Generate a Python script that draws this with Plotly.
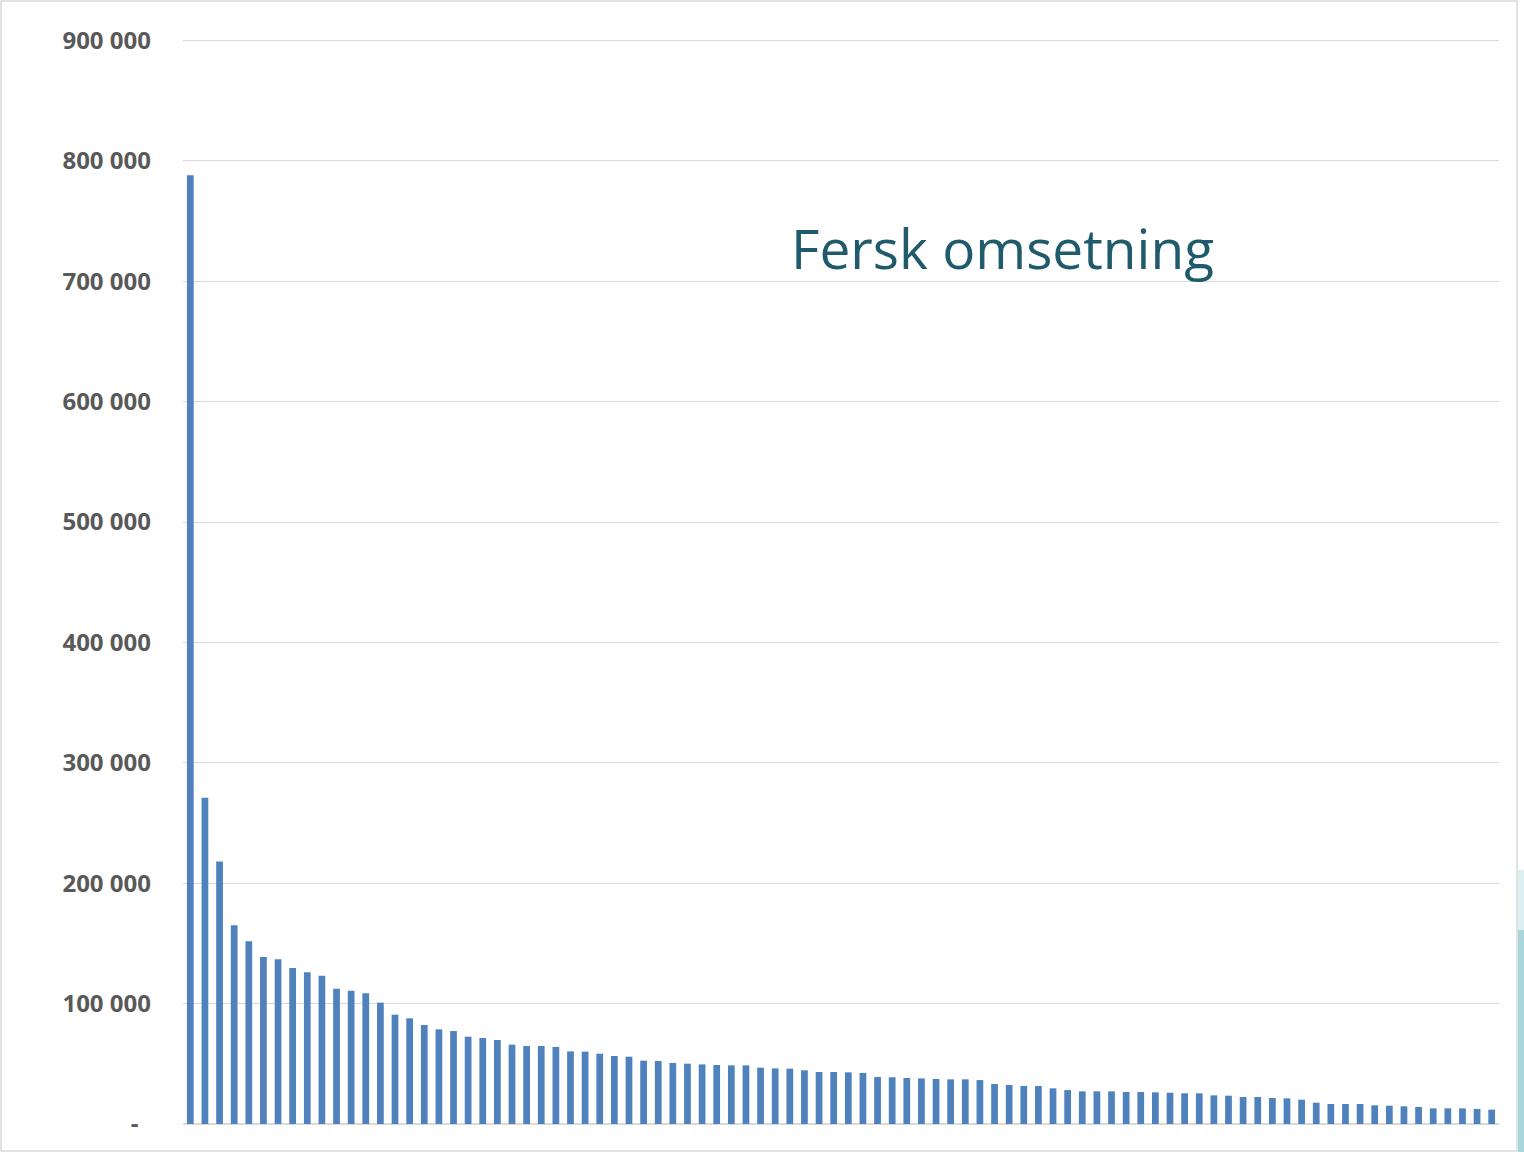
import plotly.graph_objects as go

values = [788000, 271000, 218000, 165000, 151700, 138700, 136800, 129600, 126000, 123200,
          112400, 110700, 108500, 100800, 90800, 87800, 82200, 78600, 77200, 72500,
          71400, 69800, 65900, 64800, 64800, 64000, 60300, 60100, 58400, 56500,
          55900, 52600, 52300, 50700, 50100, 49500, 49000, 48700, 48700, 46800,
          46200, 46000, 44600, 43200, 43200, 42900, 42400, 39000, 38800, 38200,
          37900, 37400, 37100, 37100, 36500, 33200, 32400, 31600, 31600, 29600,
          28200, 27100, 27100, 27100, 26600, 26600, 26300, 26000, 25500, 25500,
          23800, 23500, 22400, 22400, 21600, 21300, 20200, 17700, 16600, 16600,
          16600, 15500, 15200, 14700, 14100, 13000, 13000, 13000, 12500, 11900]
categories = [str(i + 1) for i in range(len(values))]
tick_vals = [0, 100000, 200000, 300000, 400000, 500000, 600000, 700000, 800000, 900000]
tick_text = ["-\u00a0\u00a0", "100 000", "200 000", "300 000", "400 000", "500 000",
             "600 000", "700 000", "800 000", "900 000"]
title_text = "Fersk omsetning"

W, H = 1524, 1152
L, R, T, B = 183, 25, 38, 28
pw, ph = W - L - R, H - T - B

def px(x):
    return (x - L) / pw

def py(y):
    return (H - B - y) / ph

fig = go.Figure(go.Bar(x=categories, y=values, marker=dict(color="#4F81BD", line=dict(width=0))))

fig.update_layout(
    width=W, height=H,
    margin=dict(l=L, r=R, t=T, b=B),
    paper_bgcolor="white", plot_bgcolor="white",
    bargap=0.54, showlegend=False,
    font=dict(family="Open Sans", color="#595959"),
    xaxis=dict(type="category", showticklabels=False, showgrid=False, zeroline=False,
               showline=False, ticks=""),
    yaxis=dict(range=[0, 902000], tickvals=tick_vals, ticktext=tick_text,
               showgrid=True, gridcolor="#D9D9D9", gridwidth=1,
               zeroline=True, zerolinecolor="#D9D9D9", zerolinewidth=2,
               showline=False, ticks="", ticklabelstandoff=31,
               tickfont=dict(family="Open Sans", size=24, color="#595959", weight="bold")),
)

fig.add_annotation(text=title_text, xref="paper", yref="paper",
                   x=px(1002), y=py(248), xanchor="center", yanchor="middle",
                   showarrow=False, font=dict(family="Open Sans", size=55, color="#1F5B6B"))

# slide frame and decorative strip
fig.add_shape(type="rect", xref="paper", yref="paper", x0=px(1), x1=px(1517), y0=py(1151), y1=py(1),
              line=dict(color="#D9D9D9", width=1.5), fillcolor="rgba(0,0,0,0)", layer="below")
fig.add_shape(type="rect", xref="paper", yref="paper", x0=px(1518), x1=px(1524), y0=py(1152), y1=py(930),
              line=dict(width=0), fillcolor="#A9D6DB", layer="below")
fig.add_shape(type="rect", xref="paper", yref="paper", x0=px(1518), x1=px(1524), y0=py(930), y1=py(870),
              line=dict(width=0), fillcolor="#DCEFF1", layer="below")

fig.write_html("out.html", config={"displayModeBar": False},
               post_script="document.body.style.margin='0';document.body.style.overflow='hidden';")
